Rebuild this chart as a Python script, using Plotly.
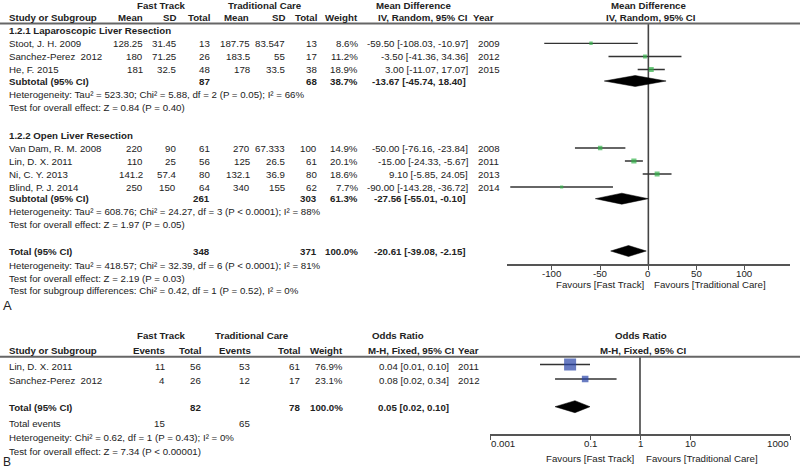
import math
import plotly.graph_objects as go

W, H = 800, 469
FONT = "Liberation Sans, Arial, sans-serif"
FS = 9.7
TXT = "#222222"

# ---------------- Panel A data (Mean Difference) ----------------
lap_study = ["Stoot, J. H. 2009", "Sanchez-Perez  2012", "He, F. 2015"]
lap_ft_mean = [128.25, 180, 181]
lap_ft_sd = [31.45, 71.25, 32.5]
lap_ft_n = [13, 26, 48]
lap_tc_mean = [187.75, 183.5, 178]
lap_tc_sd = [83.547, 55, 33.5]
lap_tc_n = [13, 17, 38]
lap_weight = [8.6, 11.2, 18.9]
lap_md = [-59.50, -3.50, 3.00]
lap_lo = [-108.03, -41.36, -11.07]
lap_hi = [-10.97, 34.36, 17.07]
lap_year = [2009, 2012, 2015]
lap_sub_n = [87, 68]
lap_sub_weight = 38.7
lap_sub_ci = [-13.67, -45.74, 18.40]

open_study = ["Van Dam, R. M. 2008", "Lin, D. X. 2011", "Ni, C. Y. 2013", "Blind, P. J. 2014"]
open_ft_mean = [220, 110, 141.2, 250]
open_ft_sd = [90, 25, 57.4, 150]
open_ft_n = [61, 56, 80, 64]
open_tc_mean = [270, 125, 132.1, 340]
open_tc_sd = [67.333, 26.5, 36.9, 155]
open_tc_n = [100, 61, 80, 62]
open_weight = [14.9, 20.1, 18.6, 7.7]
open_md = [-50.00, -15.00, 9.10, -90.00]
open_lo = [-76.16, -24.33, -5.85, -143.28]
open_hi = [-23.84, -5.67, 24.05, -36.72]
open_year = [2008, 2011, 2013, 2014]
open_sub_n = [261, 303]
open_sub_weight = 61.3
open_sub_ci = [-27.56, -55.01, -0.10]

tot_n = [348, 371]
tot_weight = 100.0
tot_ci = [-20.61, -39.08, -2.15]

a_ticks = [-100, -50, 0, 50, 100]
a_tick_text = ["-100", "-50", "0", "50", "100"]

# ---------------- Panel B data (Odds Ratio) ----------------
b_study = ["Lin, D. X. 2011", "Sanchez-Perez  2012"]
b_ft_events = [11, 4]
b_ft_n = [56, 26]
b_tc_events = [53, 12]
b_tc_n = [61, 17]
b_weight = [76.9, 23.1]
b_or = [0.04, 0.08]
b_lo = [0.01, 0.02]
b_hi = [0.10, 0.34]
b_year = [2011, 2012]
b_tot_n = [82, 78]
b_tot_events = [15, 65]
b_tot_weight = 100.0
b_tot_ci = [0.05, 0.02, 0.10]
b_ticks = [0.001, 0.1, 1, 10, 1000]
b_tick_text = ["0.001", "0.1", "1", "10", "1000"]

# ---------------- layout constants (pixel rows) ----------------
A_LAP_Y = [43.3, 56.5, 69.5]
A_LAP_SUB_Y = 81
A_OPEN_Y = [148, 161, 174, 187]
A_OPEN_SUB_Y = 198.7
A_TOT_Y = 251
B_Y = [364.5, 379]
B_TOT_Y = 406.7

annotations = []
shapes = []


def ann(x, y, s, align="left", bold=False, size=FS, color=TXT, xref="paper"):
    if bold:
        s = "<b>" + s + "</b>"
    annotations.append(dict(
        x=(x / W) if xref == "paper" else x, y=1 - y / H, xref=xref, yref="paper",
        text=s, showarrow=False, xanchor=align, yanchor="middle", borderpad=0,
        font=dict(size=size, color=color, family=FONT)))


def g(v):
    return f"{v:g}"


def ci(e, lo, hi):
    return f"{e:.2f} [{lo:.2f}, {hi:.2f}]"


# ---------------- Panel A text ----------------
ann(161, 5, "Fast Track", "center", True)
ann(265, 5, "Traditional Care", "center", True)
ann(414, 5, "Mean Difference", "center", True)
ann(648, 5, "Mean Difference", "center", True)
ann(8, 17, "Study or Subgroup", "left", True)
ann(144, 17, "Mean", "right", True)
ann(177, 17, "SD", "right", True)
ann(211, 17, "Total", "right", True)
ann(250, 17, "Mean", "right", True)
ann(286, 17, "SD", "right", True)
ann(318, 17, "Total", "right", True)
ann(359, 17, "Weight", "right", True)
ann(469, 17, "IV, Random, 95% CI", "right", True)
ann(472, 17, "Year", "left", True)
ann(651, 17, "IV, Random, 95% CI", "center", True)

ann(8, 30.5, "1.2.1 Laparoscopic Liver Resection", "left", True)


def study_rows_a(ys, names, fm, fs, fn, tm, ts, tn, w, md, lo, hi, yr):
    for i, y in enumerate(ys):
        ann(8, y, names[i])
        ann(144, y, g(fm[i]), "right")
        ann(177, y, g(fs[i]), "right")
        ann(211, y, g(fn[i]), "right")
        ann(251, y, g(tm[i]), "right")
        ann(286, y, g(ts[i]), "right")
        ann(318, y, g(tn[i]), "right")
        ann(359, y, f"{w[i]:.1f}%", "right")
        ann(469, y, ci(md[i], lo[i], hi[i]), "right")
        ann(477, y, str(yr[i]), "left")


study_rows_a(A_LAP_Y, lap_study, lap_ft_mean, lap_ft_sd, lap_ft_n, lap_tc_mean, lap_tc_sd,
             lap_tc_n, lap_weight, lap_md, lap_lo, lap_hi, lap_year)
ann(8, 81, "Subtotal (95% CI)", "left", True)
ann(211, 81, str(lap_sub_n[0]), "right", True)
ann(318, 81, str(lap_sub_n[1]), "right", True)
ann(359, 81, f"{lap_sub_weight:.1f}%", "right", True)
ann(467, 81, ci(*lap_sub_ci), "right", True)
ann(8, 94.5, "Heterogeneity: Tau² = 523.30; Chi² = 5.88, df = 2 (P = 0.05); I² = 66%")
ann(8, 107.5, "Test for overall effect: Z = 0.84 (P = 0.40)")

ann(8, 135, "1.2.2 Open Liver Resection", "left", True)
study_rows_a([148.5, 161.5, 174.5, 187.5], open_study, open_ft_mean, open_ft_sd, open_ft_n,
             open_tc_mean, open_tc_sd, open_tc_n, open_weight, open_md, open_lo, open_hi,
             open_year)
ann(8, 199, "Subtotal (95% CI)", "left", True)
ann(211, 199, str(open_sub_n[0]), "right", True)
ann(318, 199, str(open_sub_n[1]), "right", True)
ann(359, 199, f"{open_sub_weight:.1f}%", "right", True)
ann(467, 199, ci(*open_sub_ci), "right", True)
ann(8, 211.5, "Heterogeneity: Tau² = 608.76; Chi² = 24.27, df = 3 (P &lt; 0.0001); I² = 88%")
ann(8, 224, "Test for overall effect: Z = 1.97 (P = 0.05)")

ann(8, 251.5, "Total (95% CI)", "left", True)
ann(211, 251.5, str(tot_n[0]), "right", True)
ann(318, 251.5, str(tot_n[1]), "right", True)
ann(359, 251.5, f"{tot_weight:.1f}%", "right", True)
ann(467, 251.5, ci(*tot_ci), "right", True)
ann(8, 265, "Heterogeneity: Tau² = 418.57; Chi² = 32.39, df = 6 (P &lt; 0.0001); I² = 81%")
ann(8, 278, "Test for overall effect: Z = 2.19 (P = 0.03)")
ann(8, 290.5, "Test for subgroup differences: Chi² = 0.42, df = 1 (P = 0.52), I² = 0%")
ann(2, 305, "A", "left", False, 13)

for v, t in zip(a_ticks, a_tick_text):
    annotations.append(dict(x=v, y=1 - 273.3 / H, xref="x", yref="paper",
                            text=t, showarrow=False, xanchor="center", yanchor="middle",
                            borderpad=0, font=dict(size=FS, color=TXT, family=FONT)))
ann(645, 284.6, "Favours [Fast Track]", "right")
ann(652.7, 284.6, "Favours [Traditional Care]", "left")

# ---------------- Panel B text ----------------
ann(161, 335, "Fast Track", "center", True)
ann(252, 335, "Traditional Care", "center", True)
ann(398, 335, "Odds Ratio", "center", True)
ann(641, 335, "Odds Ratio", "center", True)
ann(8, 350, "Study or Subgroup", "left", True)
ann(166, 350, "Events", "right", True)
ann(202, 350, "Total", "right", True)
ann(252, 350, "Events", "right", True)
ann(301, 350, "Total", "right", True)
ann(344, 350, "Weight", "right", True)
ann(455, 350, "M-H, Fixed, 95% CI", "right", True)
ann(457, 350, "Year", "left", True)
ann(643, 350, "M-H, Fixed, 95% CI", "center", True)

for i, y in enumerate([366, 380.5]):
    ann(8, y, b_study[i])
    ann(166, y, str(b_ft_events[i]), "right")
    ann(202, y, str(b_ft_n[i]), "right")
    ann(251, y, str(b_tc_events[i]), "right")
    ann(301, y, str(b_tc_n[i]), "right")
    ann(344, y, f"{b_weight[i]:.1f}%", "right")
    ann(450, y, ci(b_or[i], b_lo[i], b_hi[i]), "right")
    ann(457, y, str(b_year[i]), "left")

ann(8, 407.3, "Total (95% CI)", "left", True)
ann(202, 407.3, str(b_tot_n[0]), "right", True)
ann(301, 407.3, str(b_tot_n[1]), "right", True)
ann(344, 407.3, f"{b_tot_weight:.1f}%", "right", True)
ann(450, 407.3, ci(*b_tot_ci), "right", True)
ann(8, 423.3, "Total events")
ann(166, 423.3, str(b_tot_events[0]), "right")
ann(251, 423.3, str(b_tot_events[1]), "right")
ann(8, 437.7, "Heterogeneity: Chi² = 0.62, df = 1 (P = 0.43); I² = 0%")
ann(8, 451.5, "Test for overall effect: Z = 7.34 (P &lt; 0.00001)")
ann(2, 461.8, "B", "left", False, 12)

# tick labels for the log axis (end labels aligned inward)
for i, (v, t) in enumerate(zip(b_ticks, b_tick_text)):
    al = "left" if i == 0 else ("right" if i == len(b_ticks) - 1 else "center")
    annotations.append(dict(x=math.log10(v), y=1 - 443.5 / H, xref="x2", yref="paper",
                            text=t, showarrow=False, xanchor=al, yanchor="middle",
                            borderpad=0, font=dict(size=FS, color=TXT, family=FONT)))
ann(635, 458.3, "Favours [Fast Track]", "right")
ann(645, 458.3, "Favours [Traditional Care]", "left")

# ---------------- lines ----------------
shapes.append(dict(type="line", xref="paper", yref="paper", x0=0, x1=1,
                   y0=1 - 23.5 / H, y1=1 - 23.5 / H, line=dict(color="#666666", width=2)))
shapes.append(dict(type="line", xref="paper", yref="paper", x0=0, x1=1,
                   y0=1 - 356.8 / H, y1=1 - 356.8 / H, line=dict(color="#666666", width=2)))
shapes.append(dict(type="line", xref="x", yref="y domain", x0=0, x1=0, y0=0, y1=1,
                   line=dict(color="#444444", width=1.6), layer="below"))
shapes.append(dict(type="line", xref="x2", yref="y2 domain", x0=1, x1=1, y0=0, y1=1,
                   line=dict(color="#444444", width=1.6), layer="below"))

fig = go.Figure()

# ---------------- Panel A marks ----------------
def ci_lines(lo, hi, ys):
    xs, yy = [], []
    for a, b, y in zip(lo, hi, ys):
        xs += [a, b, None]
        yy += [y, y, None]
    return xs, yy


all_lo = lap_lo + open_lo
all_hi = lap_hi + open_hi
all_y = A_LAP_Y + A_OPEN_Y
xs, yy = ci_lines(all_lo, all_hi, all_y)
fig.add_trace(go.Scatter(x=xs, y=yy, mode="lines", line=dict(color="#333333", width=1.3),
                         xaxis="x", yaxis="y", hoverinfo="skip"))
fig.add_trace(go.Scatter(x=lap_md + open_md, y=all_y, mode="markers",
                         marker=dict(symbol="square", color="#33b34a",
                                     size=[1.15 * math.sqrt(w) for w in lap_weight + open_weight],
                                     line=dict(width=0)),
                         xaxis="x", yaxis="y"))


def diamond(est, lo, hi, yc, h, xa, ya):
    fig.add_trace(go.Scatter(x=[lo, est, hi, est, lo], y=[yc, yc - h, yc, yc + h, yc],
                             mode="lines", fill="toself", fillcolor="#000000",
                             line=dict(color="#000000", width=0.5), xaxis=xa, yaxis=ya,
                             hoverinfo="skip"))


diamond(lap_sub_ci[0], lap_sub_ci[1], lap_sub_ci[2], A_LAP_SUB_Y, 5.5, "x", "y")
diamond(open_sub_ci[0], open_sub_ci[1], open_sub_ci[2], A_OPEN_SUB_Y, 5.5, "x", "y")
diamond(tot_ci[0], tot_ci[1], tot_ci[2], A_TOT_Y, 5.5, "x", "y")

# ---------------- Panel B marks ----------------
xs, yy = ci_lines(b_lo, b_hi, B_Y)
fig.add_trace(go.Scatter(x=xs, y=yy, mode="lines", line=dict(color="#333333", width=1.3),
                         xaxis="x2", yaxis="y2", hoverinfo="skip"))
fig.add_trace(go.Scatter(x=b_or, y=B_Y, mode="markers",
                         marker=dict(symbol="square", color="#2a45a8",
                                     size=[1.37 * math.sqrt(w) for w in b_weight],
                                     line=dict(width=0)),
                         xaxis="x2", yaxis="y2"))
diamond(b_tot_ci[0], b_tot_ci[1], b_tot_ci[2], B_TOT_Y, 6, "x2", "y2")

axis_common = dict(showgrid=False, zeroline=False, showline=True, linecolor="#555555",
                   linewidth=1.6, ticks="outside", ticklen=4, tickwidth=1.4,
                   tickcolor="#555555", showticklabels=False, fixedrange=True)

fig.update_layout(
    width=W, height=H, margin=dict(l=0, r=0, t=0, b=0),
    paper_bgcolor="white", plot_bgcolor="white", showlegend=False,
    xaxis=dict(domain=[506.7 / W, 790 / W], range=[-147, 147], anchor="y",
               tickvals=a_ticks, **axis_common),
    yaxis=dict(domain=[1 - 264 / H, 1 - 23.5 / H], range=[264, 23.5], visible=False,
               fixedrange=True),
    xaxis2=dict(domain=[490 / W, 790 / W], type="log", range=[-3, 3], anchor="y2",
                tickvals=b_ticks, **axis_common),
    yaxis2=dict(domain=[1 - 434.3 / H, 1 - 356.8 / H], range=[434.3, 356.8], visible=False,
                fixedrange=True),
    annotations=annotations, shapes=shapes,
)

fig.write_html("out.html", config={"displayModeBar": False},
               post_script="document.body.style.margin='0';document.body.style.overflow='hidden';")
